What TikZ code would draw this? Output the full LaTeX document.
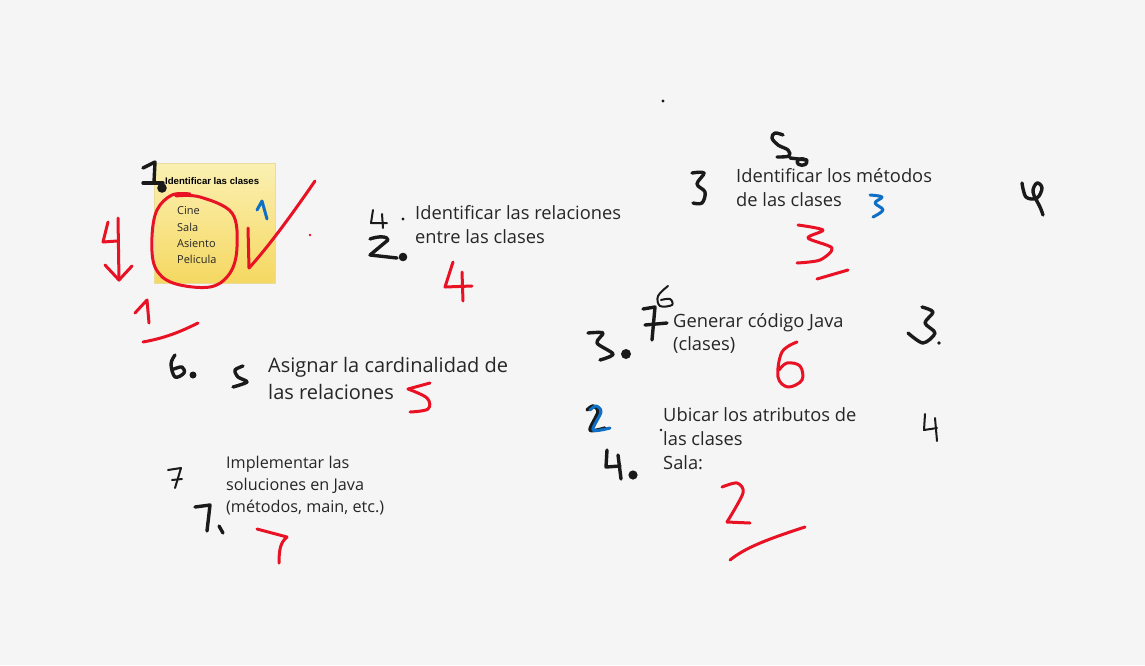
\documentclass[tikz,border=0pt]{standalone}
\usepackage{fontspec}
\setmainfont{Open Sans}
\newfontfamily\notefont{Liberation Sans}
\definecolor{bg}{HTML}{F5F5F5}
\definecolor{ink}{HTML}{1A1A1A}
\definecolor{pred}{HTML}{E81224}
\definecolor{pblue}{HTML}{0F6FC6}
\definecolor{txtc}{HTML}{262626}
\definecolor{noteT}{HTML}{FBF0B2}
\definecolor{noteB}{HTML}{F5D862}
\definecolor{noteE}{HTML}{EADC9A}
\begin{document}
\begin{tikzpicture}[x=1pt,y=-1pt,
  blk/.style={draw=ink,line width=3.4pt,line cap=round,line join=round},
  blkthin/.style={draw=ink,line width=2pt,line cap=round,line join=round},
  redp/.style={draw=pred,line width=3pt,line cap=round,line join=round},
  bluep/.style={draw=pblue,line width=3pt,line cap=round,line join=round},
  txt/.style={anchor=base west,inner sep=0pt,text=txtc,font=\fontsize{18.3}{20}\selectfont},
  bigtxt/.style={txt,font=\fontsize{20}{22}\selectfont},
  smalltxt/.style={txt,font=\fontsize{16.2}{18}\selectfont},
  notetxt/.style={anchor=base west,inner sep=0pt,text=txtc,font=\fontsize{11}{12}\selectfont},
  notetitle/.style={anchor=base west,inner sep=0pt,text=black,font=\notefont\bfseries\fontsize{9.6}{10}\selectfont}]
\fill[bg] (0,0) rectangle (1145,665);
\useasboundingbox (0,0) rectangle (1145,665);

% ---------- sticky note ----------
\shade[top color=noteT,bottom color=noteB,draw=noteE,line width=0.6pt] (154,163) rectangle (275,283);
\node[notetitle] (t1) at (165,184) {Identificar las clases};
\node[notetxt] (c1) at (177,214) {Cine};
\node[notetxt] (c2) at (177,231) {Sala};
\node[notetxt] (c3) at (177,247) {Asiento};
\node[notetxt] (c4) at (177,263) {Pelicula};
% black 1.
\draw[blk] (143,168) -- (155,162) -- (154,182);
\draw[blk] (143,183) -- (163,183);
\fill[ink] (162,188) circle (4.8pt);
% red circle
\draw[redp] plot[smooth,tension=0.6] coordinates {(190,194) (172,195) (157,210) (152,237) (155,267) (173,283) (210,287) (230,273) (237,247) (232,213) (200,197) (176,196)};
% red check
\draw[redp] (248,228) -- (249,268) .. controls (270,245) and (295,210) .. (315,181);
\fill[pred] (310,235) circle (1.4pt);
% blue 1
\draw[bluep] (257,210) -- (262,201) -- (267,219);
% red 4 with arrow
\draw[redp] (108,222) -- (103,242) -- (117,241);
\draw[redp] (118,218) -- (119,280);
\draw[redp] (105,265) -- (119,280) -- (132,266);
% red 1 and stroke
\draw[redp] (135,313) -- (147,300) -- (149,323);
\draw[redp] (143,342) .. controls (165,338) and (180,332) .. (198,323);

% ---------- relaciones ----------
\draw[blkthin] (373,210) -- (371,223) -- (387,223);
\draw[blkthin] (382,214) -- (383,228);
\fill[ink] (403,219) circle (1.6pt);
\draw[blk] (370,239) .. controls (378,236) and (388,236) .. (388,240) -- (370,255) -- (397,258);
\fill[ink] (403,257) circle (4.3pt);
\node[txt] (t2a) at (415,219) {Identificar las relaciones};
\node[txt] (t2b) at (415,243) {entre las clases};
\draw[redp] (453,262) -- (445,287) -- (472,286);
\draw[redp] (462,272) -- (463,301);

% ---------- metodos ----------
\draw[blk] plot[smooth,tension=0.6] coordinates {(783,135) (775,133) (772,138) (778,145) (788,150) (789,156) (777,157)};
\draw[blk] (802,162) ellipse (5pt and 3.3pt);
\draw[blk] (790,158) -- (807,160);
\draw[blk] plot[smooth,tension=0.6] coordinates {(692,173) (704,173) (697,184) (705,192) (702,203) (693,203)};
\node[txt] (t3a) at (736,182) {Identificar los métodos};
\node[txt] (t3b) at (736,206) {de las clases};
\draw[bluep] plot[smooth,tension=0.6] coordinates {(870,195) (882,197) (875,203) (883,210) (873,217)};
\draw[redp] plot[smooth,tension=0.5] coordinates {(798,225) (823,230) (808,238) (832,248) (820,260) (797,263)};
\draw[redp] (817,279) -- (848,270);
\draw[blk] plot[smooth,tension=0.6] coordinates {(1022,183) (1026,197) (1037,198) (1042,188) (1037,183) (1033,192) (1040,207) (1043,215)};

% ---------- generar codigo ----------
\draw[blk] plot[smooth,tension=0.5] coordinates {(588,333) (603,333) (597,343) (613,354) (600,360)};
\fill[ink] (626,354) circle (5pt);
\draw[blk] (643,309) -- (655,307) -- (652,340);
\draw[blk] (645,325) -- (667,323);
\draw[blkthin] plot[smooth,tension=0.6] coordinates {(668,286) (658,296) (660,306) (672,305) (670,299) (661,300)};
\node[txt] (t4a) at (673,327) {Generar código Java};
\node[txt] (t4b) at (673,350) {(clases)};
\draw[redp] plot[smooth,tension=0.6] coordinates {(797,342) (782,352) (778,377) (788,387) (802,380) (800,366) (787,363) (779,370)};
\draw[blk] plot[smooth,tension=0.5] coordinates {(922,307) (933,312) (925,323) (935,333) (923,343) (908,333)};
\fill[ink] (939,343) circle (1.8pt);

% ---------- atributos ----------
\draw[blk] plot[smooth,tension=0.5] coordinates {(587,410) (593,406) (598,412) (590,430) (605,428)};
\draw[bluep] plot[smooth,tension=0.5] coordinates {(590,410) (596,406) (601,412) (593,430) (610,428)};
\fill[ink] (661,430) circle (1.4pt);
\node[txt] (t5a) at (663,421) {Ubicar los atributos de};
\node[txt] (t5b) at (663,445) {las clases};
\node[txt] (t5c) at (663,469) {Sala:};
\draw[blk] (607,450) -- (606,467) -- (620,466);
\draw[blk] (618,455) -- (621,479);
\fill[ink] (633,475) circle (4.6pt);
\draw[redp] plot[smooth,tension=0.5] coordinates {(722,487) (737,483) (743,493) (727,522)};
\draw[redp] (727,522) -- (750,523);
\draw[redp] (730,560) .. controls (745,548) and (765,540) .. (805,527);
\draw[blkthin] (925,414) -- (924,430) -- (937,428);
\draw[blkthin] (935,418) -- (937,441);

% ---------- cardinalidad ----------
\draw[blk] plot[smooth,tension=0.6] coordinates {(175,355) (171,364) (175,377) (184,373) (182,367) (174,369)};
\fill[ink] (193,375) circle (3.5pt);
\draw[blk] plot[smooth,tension=0.5] coordinates {(243,366) (235,370) (238,377) (247,382) (233,387)};
\node[bigtxt] (t6a) at (268,372) {Asignar la cardinalidad de};
\node[bigtxt] (t6b) at (268,399) {las relaciones};
\draw[redp] (430,383) -- (408,389);
\draw[redp] plot[smooth,tension=0.6] coordinates {(408,389) (427,398) (428,409) (410,412)};

% ---------- implementar ----------
\draw[blkthin] (168,470) -- (181,468) -- (175,488);
\draw[blkthin] (172,480) -- (182,479);
\draw[blk] (195,507) -- (210,505) -- (207,531);
\draw[blk] (219,526) -- (223,533);
\node[smalltxt] (t7a) at (226,468) {Implementar las};
\node[smalltxt] (t7b) at (226,490) {soluciones en Java};
\node[smalltxt] (t7c) at (226,512) {(métodos, main, etc.)};
\draw[redp] (257,529) -- (287,537);
\draw[redp] (287,537) .. controls (281,542) and (279,548) .. (279,563);

% stray dot
\fill[ink] (663,101) circle (1.6pt);
\end{tikzpicture}
\end{document}
